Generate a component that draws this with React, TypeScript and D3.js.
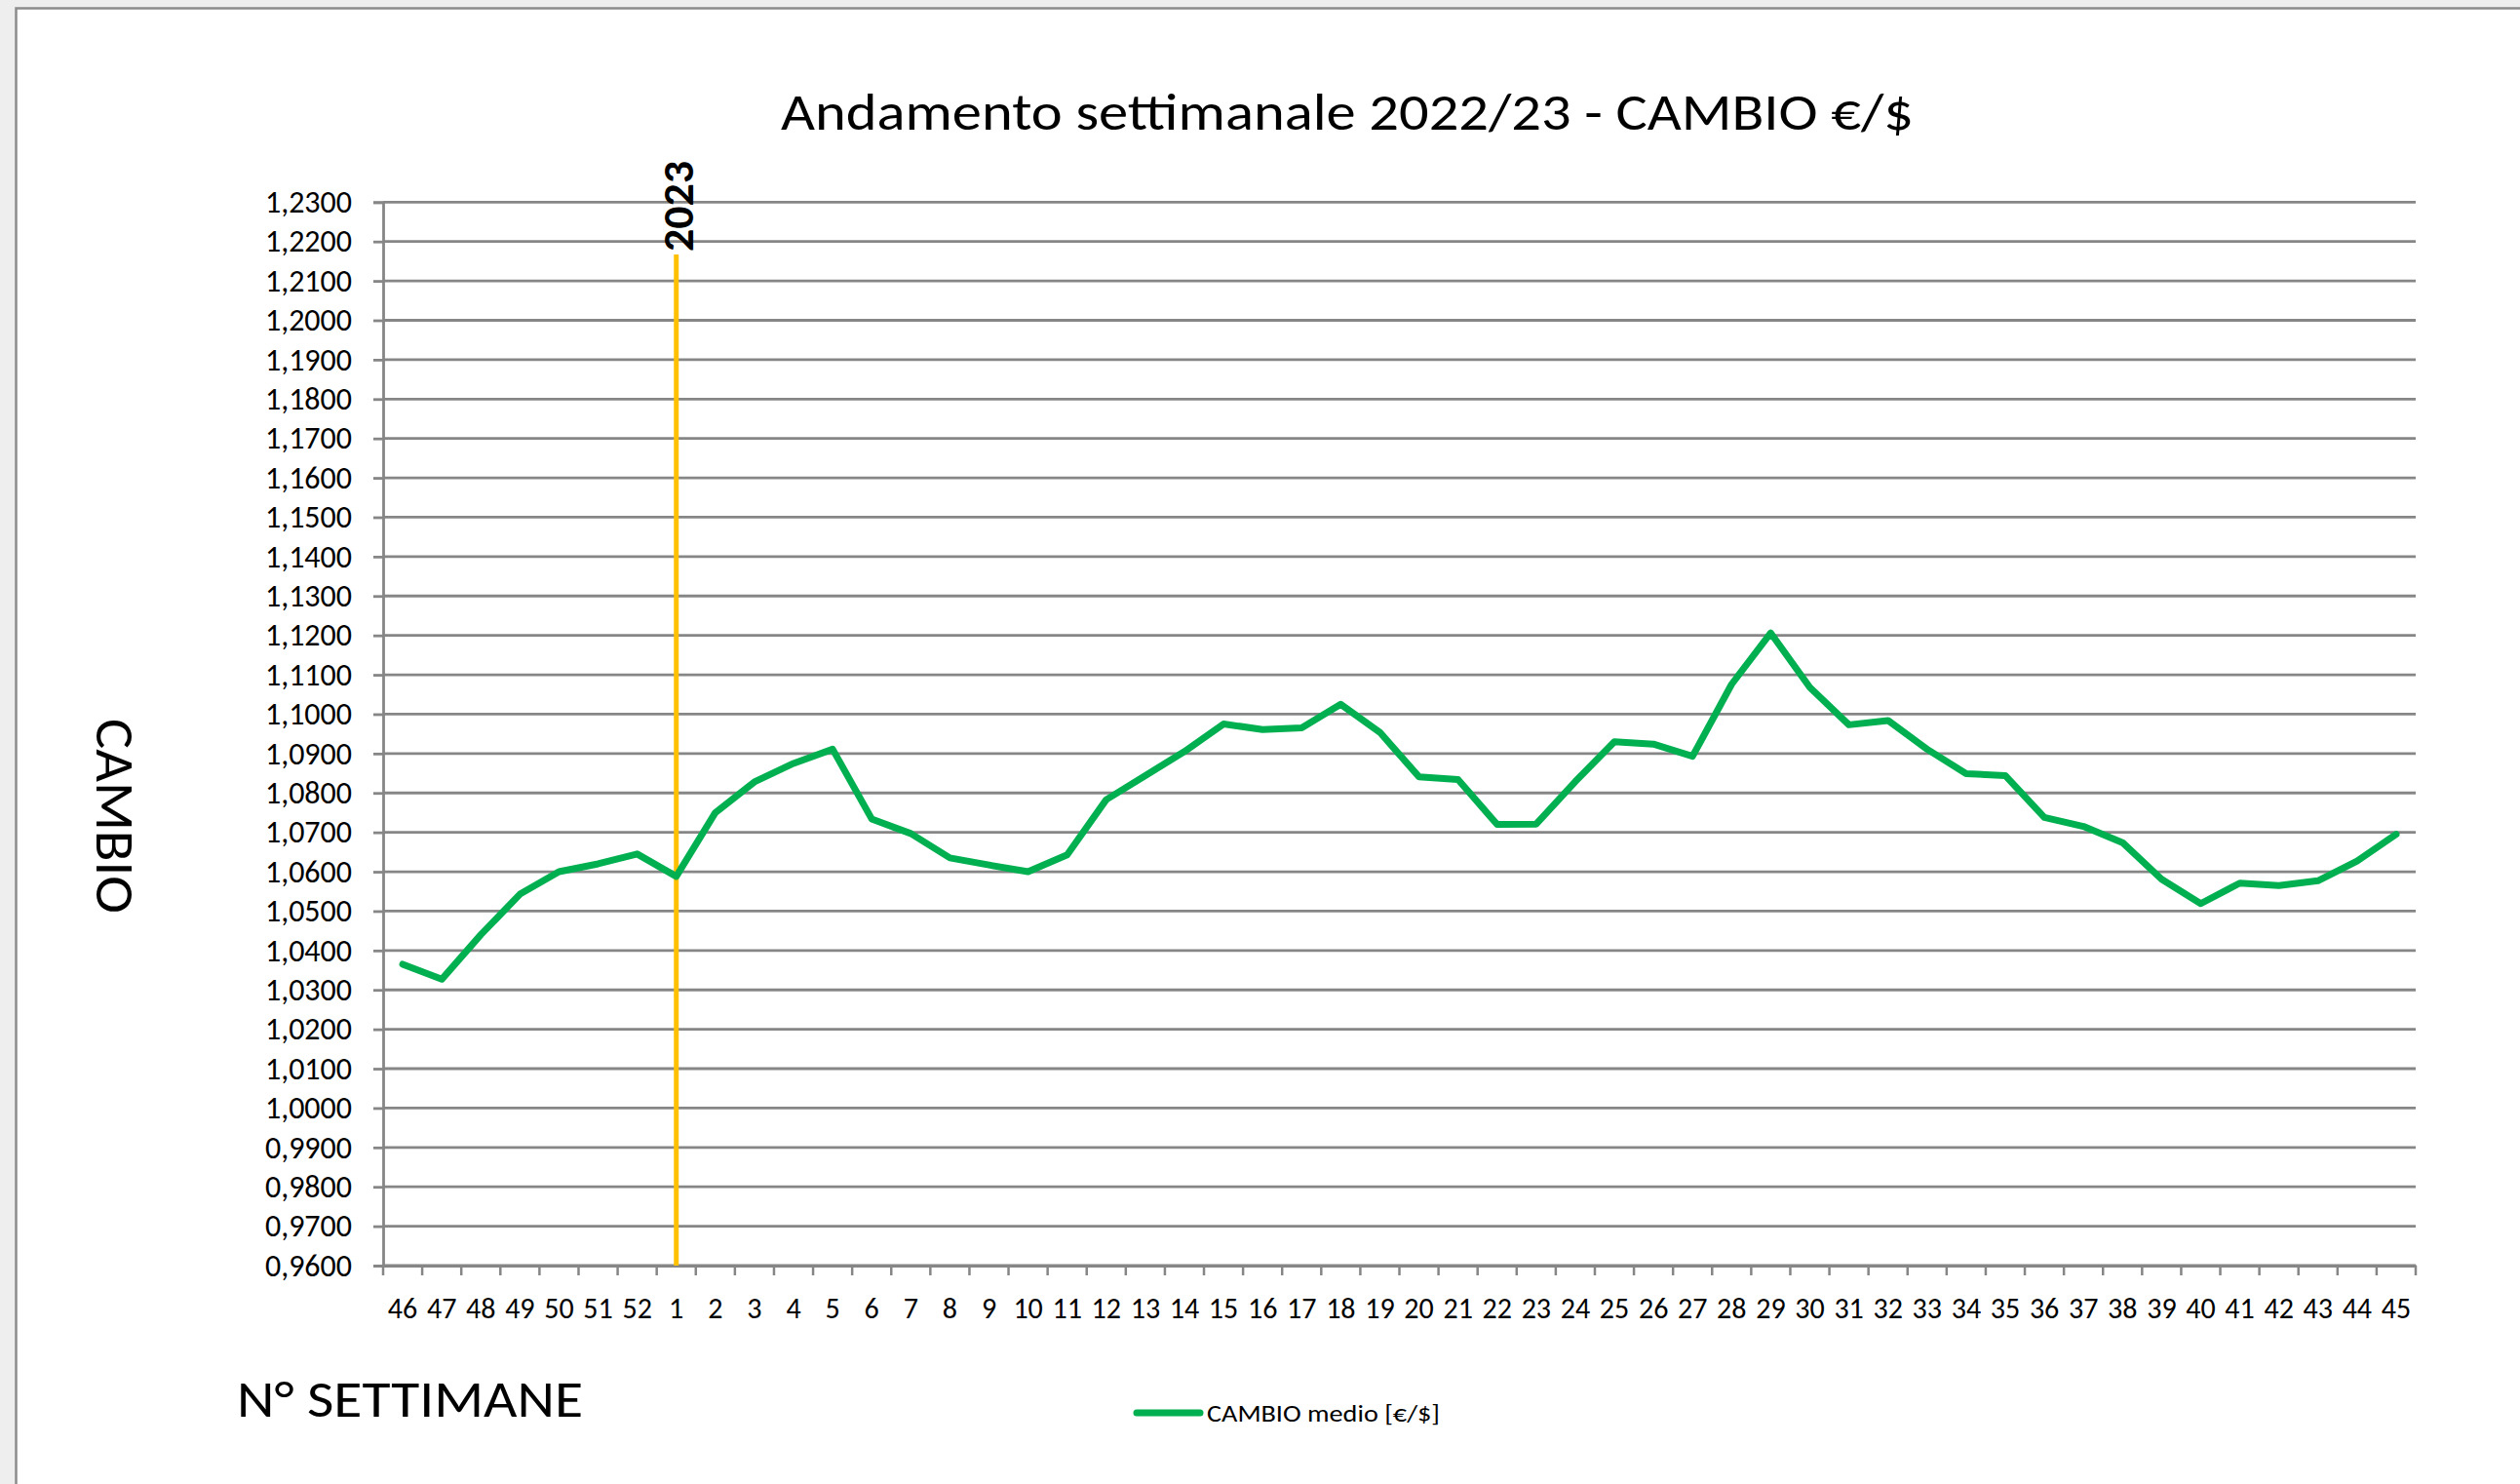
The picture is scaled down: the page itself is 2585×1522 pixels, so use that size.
import * as d3 from 'd3';
import { useEffect, useRef } from 'react';

// week numbers on the x axis (late 2022, then 2023)
const weeks = ['46', '47', '48', '49', '50', '51', '52',
  '1', '2', '3', '4', '5', '6', '7', '8', '9', '10', '11', '12', '13', '14', '15',
  '16', '17', '18', '19', '20', '21', '22', '23', '24', '25', '26', '27', '28', '29', '30',
  '31', '32', '33', '34', '35', '36', '37', '38', '39', '40', '41', '42', '43', '44', '45'];

// CAMBIO medio [€/$]
const cambio = [1.0365, 1.0327, 1.0440, 1.0543, 1.0600, 1.0620, 1.0645,
  1.0588, 1.0750, 1.0828, 1.0875, 1.0911, 1.0734, 1.0697, 1.0635, 1.0617, 1.0600, 1.0643, 1.0783, 1.0844, 1.0905, 1.0975,
  1.0961, 1.0965, 1.1025, 1.0954, 1.0841, 1.0834, 1.0720, 1.0721, 1.0829, 1.0930, 1.0924, 1.0893, 1.1076, 1.1206, 1.1068,
  1.0973, 1.0984, 1.0911, 1.0849, 1.0844, 1.0738, 1.0715, 1.0674, 1.0581, 1.0519, 1.0571, 1.0565, 1.0577, 1.0627, 1.0695];

const yMin = 0.96, yMax = 1.23, yStep = 0.01;
const yearMark = '1';
const yearLabel = '2023';

const font = 'Carlito, Calibri, Lato, sans-serif';

export default function App() {
  const ref = useRef<SVGSVGElement | null>(null);

  useEffect(() => {
    const W = 2585, H = 1522;
    const left = 393, right = 2478, top = 207.3, bottom = 1298;
    const grid = '#868686';

    const svg = d3.select(ref.current);
    svg.selectAll('*').remove();

    // page background + chart box
    svg.append('rect').attr('width', W).attr('height', H).attr('fill', '#eeeeee');
    svg.append('rect').attr('x', 16.5).attr('y', 8.5).attr('width', W).attr('height', H)
      .attr('fill', '#fff').attr('stroke', '#8c8c8c').attr('stroke-width', 2.5);

    const x = d3.scaleBand().domain(weeks).range([left, right]).padding(0);
    const y = d3.scaleLinear().domain([yMin, yMax]).range([bottom, top]);
    const yTicks = d3.range(0, Math.round((yMax - yMin) / yStep) + 1).map(i => yMin + i * yStep);
    const fmt = (v: number) => d3.format('.4f')(v).replace('.', ',');

    // horizontal gridlines
    svg.append('g').selectAll('line').data(yTicks).enter().append('line')
      .attr('x1', left).attr('x2', right)
      .attr('y1', d => y(d)).attr('y2', d => y(d))
      .attr('stroke', grid).attr('stroke-width', 2.8);

    // y axis
    const ya = svg.append('g').attr('transform', `translate(${left},0)`)
      .call(d3.axisLeft(y).tickValues(yTicks).tickSize(10).tickPadding(22).tickFormat(d => fmt(+d)));
    ya.select('.domain').attr('stroke', grid).attr('stroke-width', 2.8);
    ya.selectAll('.tick line').attr('stroke', grid).attr('stroke-width', 2.8);
    ya.selectAll('text').attr('font-family', font).attr('font-size', 32).attr('fill', '#000');

    // x axis: labels at band centres, ticks on band boundaries
    const xa = svg.append('g').attr('transform', `translate(0,${bottom})`)
      .call(d3.axisBottom(x).tickSize(0).tickPadding(33));
    xa.select('.domain').attr('stroke', grid).attr('stroke-width', 2.8);
    xa.selectAll('text').attr('font-family', font).attr('font-size', 30).attr('fill', '#000');
    const bounds = weeks.map(w => x(w) as number).concat([right]);
    svg.append('g').selectAll('line').data(bounds).enter().append('line')
      .attr('x1', d => d).attr('x2', d => d).attr('y1', bottom).attr('y2', bottom + 10)
      .attr('stroke', grid).attr('stroke-width', 2.5);

    // year separator
    const xm = (x(yearMark) as number) + x.bandwidth() / 2;
    svg.append('line').attr('x1', xm).attr('x2', xm).attr('y1', 261).attr('y2', bottom)
      .attr('stroke', '#FFC000').attr('stroke-width', 5);
    svg.append('text').attr('transform', `translate(${xm + 17},258) rotate(-90)`)
      .attr('font-family', font).attr('font-weight', 'bold').attr('font-size', 44)
      .attr('textLength', 93).attr('lengthAdjust', 'spacingAndGlyphs')
      .text(yearLabel);

    // series
    const line = d3.line<number>()
      .x((_, i) => (x(weeks[i]) as number) + x.bandwidth() / 2)
      .y(d => y(d));
    svg.append('path').datum(cambio).attr('d', line)
      .attr('fill', 'none').attr('stroke', '#00B050').attr('stroke-width', 7)
      .attr('stroke-linejoin', 'round').attr('stroke-linecap', 'round');

    // titles
    svg.append('text').attr('x', 801).attr('y', 133)
      .attr('font-family', font).attr('font-size', 53)
      .attr('textLength', 1162).attr('lengthAdjust', 'spacingAndGlyphs')
      .text('Andamento settimanale 2022/23 - CAMBIO €/$');
    svg.append('text').attr('transform', 'translate(99,737) rotate(90)')
      .attr('font-family', font).attr('font-size', 56)
      .attr('textLength', 200).attr('lengthAdjust', 'spacingAndGlyphs')
      .text('CAMBIO');
    svg.append('text').attr('x', 243).attr('y', 1453)
      .attr('font-family', font).attr('font-size', 53)
      .attr('textLength', 355).attr('lengthAdjust', 'spacingAndGlyphs')
      .text('N° SETTIMANE');

    // legend
    svg.append('line').attr('x1', 1166).attr('x2', 1231).attr('y1', 1449).attr('y2', 1449)
      .attr('stroke', '#00B050').attr('stroke-width', 7).attr('stroke-linecap', 'round');
    svg.append('text').attr('x', 1238).attr('y', 1458)
      .attr('font-family', font).attr('font-size', 25)
      .attr('textLength', 239).attr('lengthAdjust', 'spacingAndGlyphs')
      .text('CAMBIO medio [€/$]');
  }, []);

  return (
    <svg ref={ref} width={2585} height={1522}
      style={{ position: 'absolute', left: 0, top: 0, display: 'block' }} />
  );
}
